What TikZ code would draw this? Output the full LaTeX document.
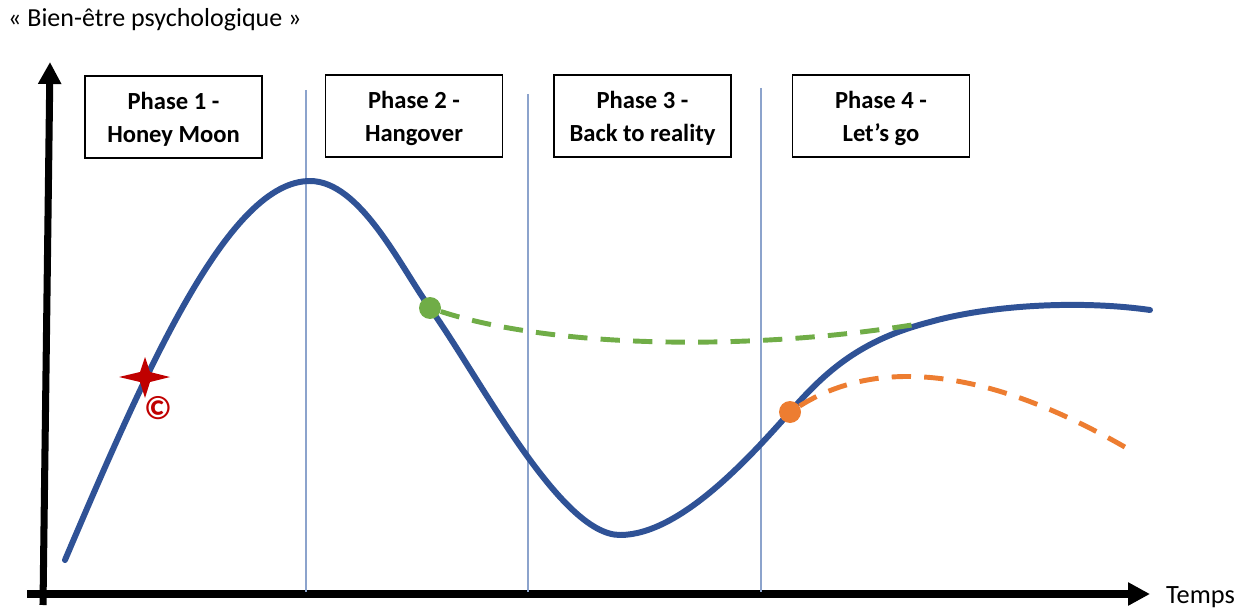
\documentclass[tikz,border=0pt]{standalone}
\usepackage{fontspec}
\setmainfont{Carlito}
\usetikzlibrary{arrows.meta, positioning}

\definecolor{curveblue}{RGB}{47,82,150}
\definecolor{phaseline}{RGB}{140,163,204}
\definecolor{okgreen}{RGB}{112,173,71}
\definecolor{warnorange}{RGB}{237,125,49}
\definecolor{starred}{RGB}{192,0,0}

% a little room above the first line of a phase label
\newcommand{\topstrut}{\rule{0pt}{12.8pt}}

\begin{document}
\begin{tikzpicture}[x=0.02cm, y=-0.02cm,
    phasebox/.style={draw, line width=0.8pt, minimum width=3.54cm, minimum height=1.64cm,
      align=center, font=\fontsize{14}{18.7}\selectfont\bfseries},
    axis/.style={line width=4pt, -{Triangle[length=12.5pt, width=12.5pt]}},
    divider/.style={phaseline, line width=0.9pt},
    dot/.style={circle, inner sep=0pt, minimum size=0.44cm},
    trend/.style={line width=2.8pt, dash pattern=on 11pt off 7.5pt}]
  \useasboundingbox (0,0) rectangle (1251,608);

  % axes
  \coordinate (origin) at (43,605);
  \coordinate (ytip) at (50,62);
  \coordinate (xstart) at (27,594);
  \coordinate (xtip) at (1150,594);
  \draw[axis] (origin) -- (ytip);
  \draw[axis] (xstart) -- (xtip);
  \node[anchor=west, font=\fontsize{14.8}{17}\selectfont] (ylabel) at (2,20) {« Bien-être psychologique »};
  \node[anchor=west, font=\fontsize{15}{17}\selectfont] (xlabel) at (1160,597) {Temps};

  % phase separators
  \draw[divider] (306,90) -- (306,592);
  \draw[divider] (528,94) -- (528,592);
  \draw[divider] (761,88) -- (761,592);

  % phase labels
  \node[phasebox] (phase1) at (173.5,117) {\topstrut Phase 1 -\\Honey Moon};
  \node[phasebox] (phase2) at (414,116) {\topstrut Phase 2 -\\Hangover};
  \node[phasebox] (phase3) at (642.5,116) {\topstrut Phase 3 -\\Back to reality};
  \node[phasebox] (phase4) at (881,116) {\topstrut Phase 4 -\\Let’s go};

  % main curve
  \draw[curveblue, line width=3.4pt, line cap=round]
    (65,560) .. controls (150,360) and (230,181) .. (310,181)
    .. controls (360,181) and (400,266) .. (430,308)
    .. controls (480,378) and (560,535) .. (620,535)
    .. controls (680,535) and (750,457) .. (790,412)
    .. controls (825,372) and (860,340) .. (930,322)
    .. controls (990,305) and (1080,300) .. (1150,310);

  % alternative paths
  \node[dot, fill=okgreen] (gdot) at (430,308) {};
  \node[dot, fill=warnorange] (odot) at (790,412) {};
  \coordinate (gend) at (918,324);
  \coordinate (oend) at (1130,450);
  \draw[trend, okgreen] (gdot) .. controls (560,350) and (760,350) .. (gend);
  \draw[trend, warnorange] (odot) .. controls (870,362) and (975,360) .. (oend);

  % start marker
  \fill[starred] (119,377) -- (140,372) -- (145,357) -- (150,372) -- (170,377)
    -- (150,382) -- (145,398) -- (140,382) -- cycle;
  \node[text=starred, font=\fontsize{19}{20}\selectfont\bfseries] (copy) at (158,408) {©};
\end{tikzpicture}
\end{document}
